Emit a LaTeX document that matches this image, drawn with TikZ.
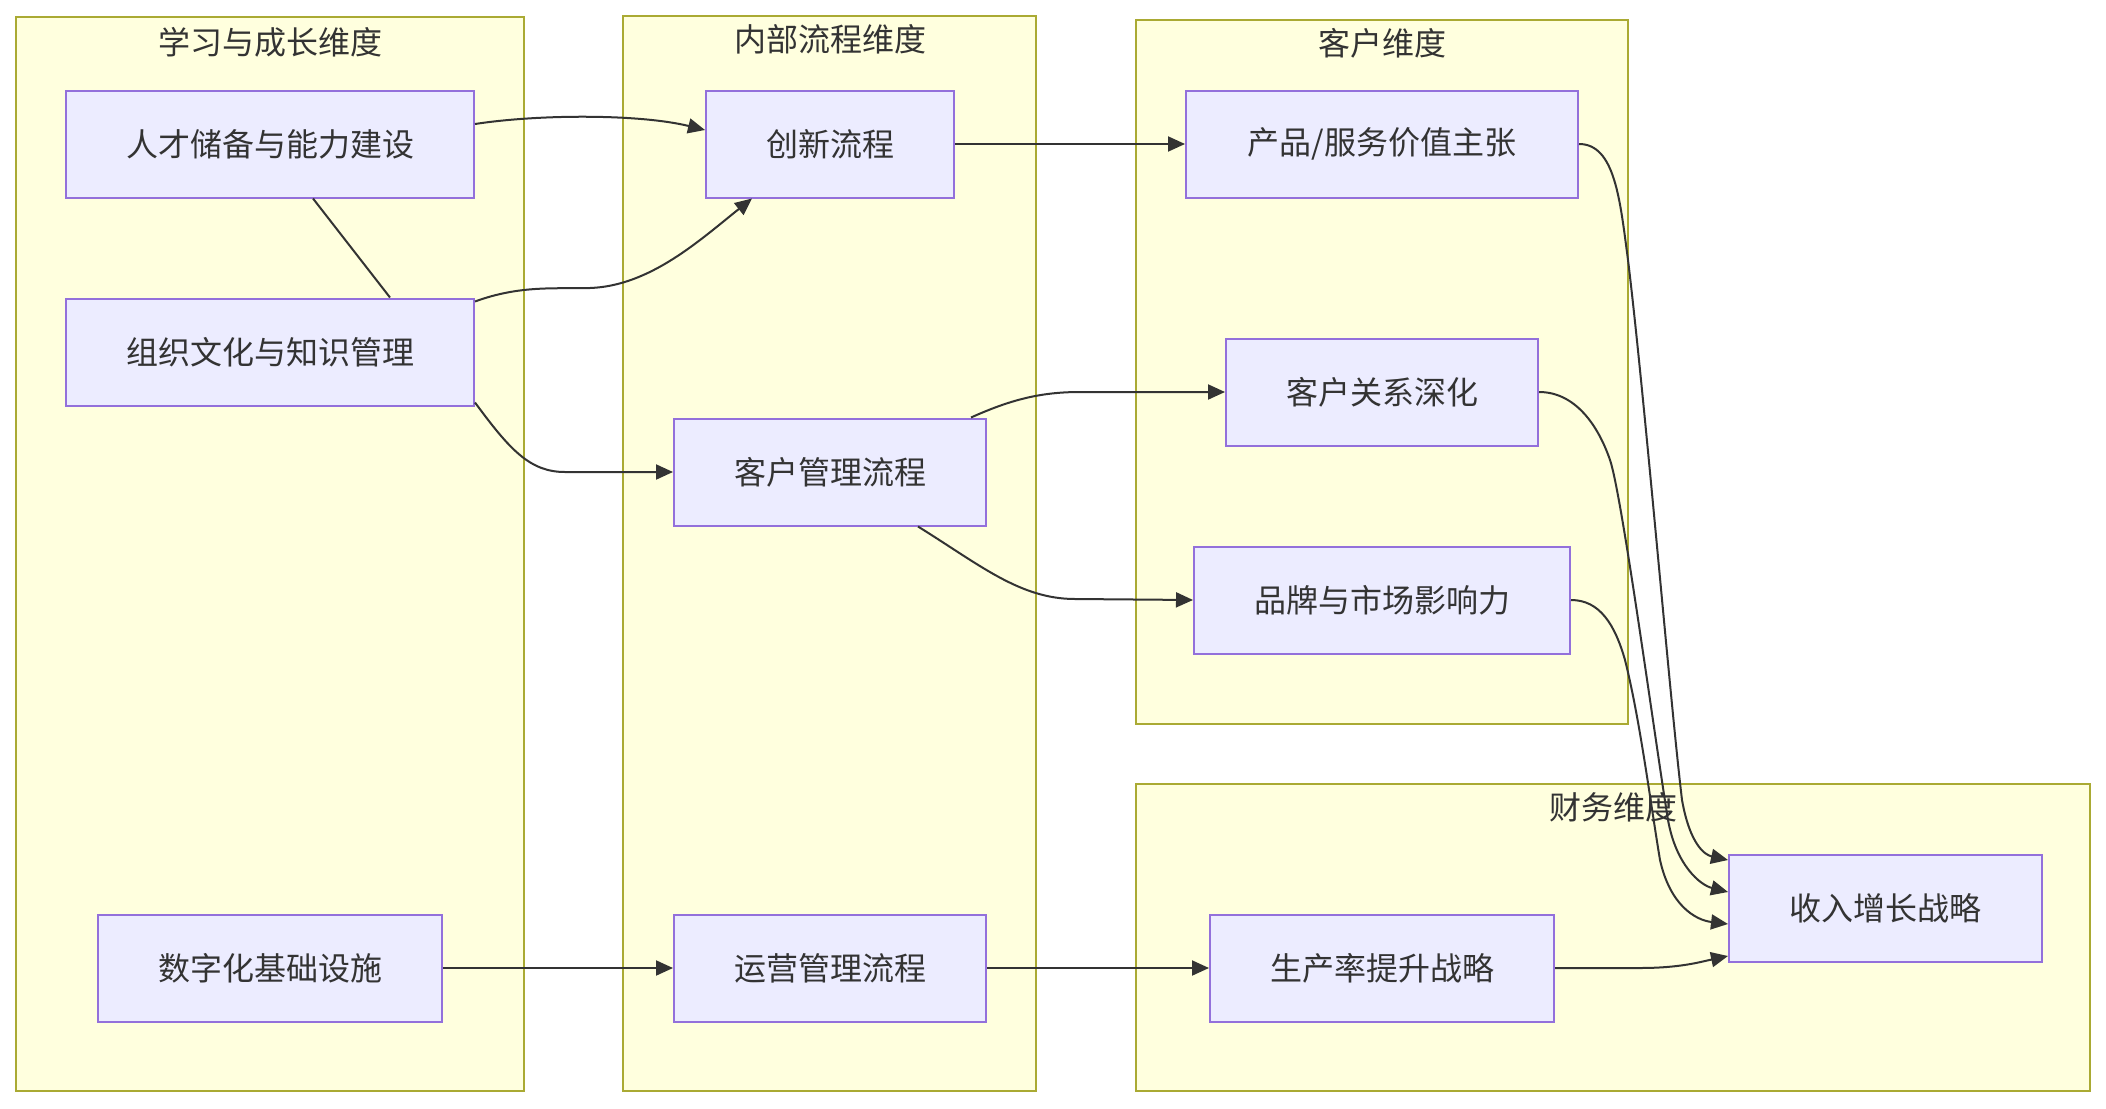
\documentclass[tikz,border=0pt]{standalone}
\usepackage{fontspec}
\setmainfont{Noto Sans CJK SC}
\usetikzlibrary{calc,arrows.meta}
\definecolor{clfill}{HTML}{FFFFDE}
\definecolor{clstroke}{HTML}{AAAA33}
\definecolor{ndfill}{HTML}{ECECFF}
\definecolor{ndstroke}{HTML}{9370DB}
\definecolor{ink}{HTML}{333333}
\begin{document}
\begin{tikzpicture}[x=1pt,y=-1pt,
  cluster/.style={draw=clstroke,fill=clfill,line width=2.2pt},
  ctitle/.style={inner sep=0pt,text=ink,font=\fontsize{32pt}{36pt}\selectfont},
  box/.style={draw=ndstroke,fill=ndfill,line width=2pt,inner sep=0pt,minimum height=107pt,text=ink,font=\fontsize{32pt}{36pt}\selectfont},
  link/.style={draw=ink,line width=2pt,-{Triangle[length=17pt,width=15pt]}},
  plainlink/.style={draw=ink,line width=2pt}
]
\useasboundingbox (0,0) rectangle (2106,1108);
\fill[white] (0,0) rectangle (2106,1108);

% clusters
\draw[cluster] (16,17) rectangle (524,1091);
\draw[cluster] (623,16) rectangle (1036,1091);
\draw[cluster] (1136,20) rectangle (1628,724);
\draw[cluster] (1136,784) rectangle (2090,1091);
\node[ctitle] (t1) at (270,42) {学习与成长维度};
\node[ctitle] (t2) at (830,39) {内部流程维度};
\node[ctitle] (t3) at (1382,43) {客户维度};
\node[ctitle] (t4) at (1613,807) {财务维度};

% nodes
\node[box,minimum width=408pt] (talent) at (270,144) {人才储备与能力建设};
\node[box,minimum width=408pt] (culture) at (270,352) {组织文化与知识管理};
\node[box,minimum width=344pt] (digital) at (270,968) {数字化基础设施};
\node[box,minimum width=248pt] (innov) at (830,144) {创新流程};
\node[box,minimum width=312pt] (cust) at (830,472) {客户管理流程};
\node[box,minimum width=312pt] (ops) at (830,968) {运营管理流程};
\node[box,minimum width=392pt] (prod) at (1382,144) {产品/服务价值主张};
\node[box,minimum width=312pt] (rel) at (1382,392) {客户关系深化};
\node[box,minimum width=376pt] (brand) at (1382,600) {品牌与市场影响力};
\node[box,minimum width=344pt] (prodty) at (1382,968) {生产率提升战略};
\node[box,minimum width=313pt] (inc) at (1885.5,908) {收入增长战略};

% connectors
\draw[link] ($(talent.east)+(0,-20)$) .. controls (540,114) and (640,114) .. ($(innov.west)+(0,-14)$);
\draw[plainlink] ($(talent.south)+(43,0)$) -- ($(culture.north)+(120,0)$);
\draw[link] ($(culture.north east)+(0,4)$) .. controls (520,285) and (555,289) .. (590,288) .. controls (650,286) and (700,240) .. ($(innov.south)+(-78,0)$);
\draw[link] ($(culture.south east)+(0,-4)$) .. controls (510,450) and (530,472) .. (565,472) -- (cust.west);
\draw[link] (innov.east) -- (prod.west);
\draw[link] ($(cust.north east)+(-16,0)$) .. controls (1010,400) and (1040,392) .. (1080,392) -- (rel.west);
\draw[link] ($(cust.south east)+(-69,0)$) .. controls (980,565) and (1020,599) .. (1075,599) -- (brand.west);
\draw[link] (digital.east) -- (ops.west);
\draw[link] (ops.east) -- (prodty.west);
\draw[link] (prodty.east) -- (1640,968) .. controls (1680,968) and (1700,962) .. ($(inc.west)+(0,48)$);
\draw[link] (prod.east) .. controls (1615,144) and (1620,200) .. (1628,260) .. controls (1645,400) and (1670,700) .. (1682,800) .. controls (1690,845) and (1705,855) .. ($(inc.west)+(0,-48)$);
\draw[link] (rel.east) .. controls (1575,392) and (1598,425) .. (1610,460) .. controls (1622,495) and (1655,740) .. (1668,820) .. controls (1676,865) and (1700,885) .. ($(inc.west)+(0,-16)$);
\draw[link] (brand.east) .. controls (1600,600) and (1615,625) .. (1625,660) .. controls (1640,720) and (1650,800) .. (1660,860) .. controls (1670,905) and (1695,920) .. ($(inc.west)+(0,16)$);
\end{tikzpicture}
\end{document}
